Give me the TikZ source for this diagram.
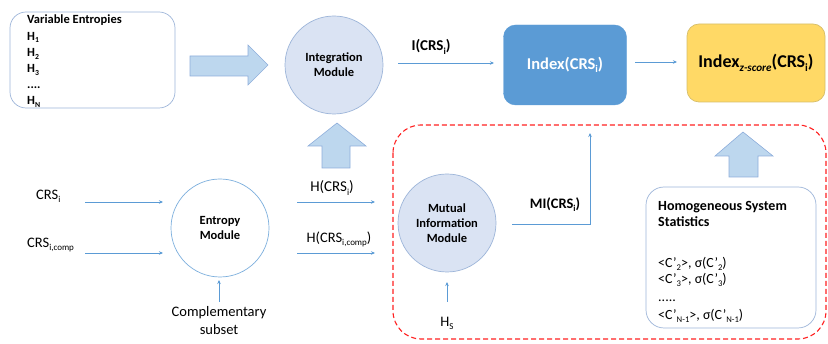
\documentclass[tikz,border=0pt]{standalone}
\usepackage{fontspec}
\setmainfont{Carlito}
\usetikzlibrary{arrows.meta}
\newcommand{\sub}[1]{\raisebox{-0.45ex}{\scalebox{0.62}{#1}}}
\definecolor{lineblue}{HTML}{5B9BD5}
\definecolor{edgeblue}{HTML}{9DB5D9}
\definecolor{circfill}{HTML}{DAE3F3}
\definecolor{arrowfill}{HTML}{BDD7EE}
\definecolor{arrowedge}{HTML}{8EAEDB}
\definecolor{idxblue}{HTML}{5B9BD5}
\definecolor{idxyellow}{HTML}{FFD966}
\definecolor{yedge}{HTML}{D6BE6A}
\definecolor{dashred}{HTML}{FF2020}
\tikzset{
  flow/.style={draw=lineblue, line width=0.8pt, -{Stealth[length=4pt,width=3.5pt]}},
  bigarrow/.style={draw=arrowedge, fill=arrowfill, line width=0.6pt},
  roundbox/.style={draw=edgeblue, line width=0.7pt, rounded corners=16pt, fill=white},
  module/.style={circle, draw=edgeblue, line width=0.7pt, fill=circfill, minimum size=98pt, inner sep=0pt, align=center, font=\fontsize{12.5}{15}\selectfont\bfseries},
  lbl/.style={inner sep=0pt, font=\fontsize{14.5}{16}\selectfont},
  blbl/.style={inner sep=0pt, font=\fontsize{14.5}{16}\selectfont\bfseries},
}
\begin{document}
\begin{tikzpicture}[x=1pt,y=-1pt]
\useasboundingbox (0,0) rectangle (828,344);
% Variable entropies box
\draw[roundbox] (10,12) rectangle (175,108);
\node[anchor=north west, inner sep=0pt, align=left, font=\fontsize{12.5}{16.2}\selectfont\bfseries] (varent) at (27,15)
  {Variable Entropies\\H\sub{1}\\H\sub{2}\\H\sub{3}\\....\\H\sub{N}};
% big right arrow
\draw[bigarrow] (190,56) -- (248,56) -- (248,45) -- (268,65) -- (248,85) -- (248,76) -- (190,76) -- cycle;
% Integration module
\node[module] (integ) at (334,65) {Integration\\Module};
% Index box
\node[draw=idxblue, fill=idxblue, rounded corners=12pt, minimum width=123pt, minimum height=80pt, text=white, font=\fontsize{16.5}{18}\selectfont\bfseries] (index) at (565,65) {Index(CRS\sub{i})};
% Index z-score box
\node[draw=yedge, fill=idxyellow, line width=0.7pt, rounded corners=12pt, minimum width=138pt, minimum height=78pt, font=\fontsize{18}{20}\selectfont\bfseries] (zindex) at (756,63) {Index\sub{\itshape z-score}(CRS\sub{i})};
\coordinate (ia) at (398,63);
\coordinate (ib) at (494,63);
\draw[flow] (ia) -- (ib);
\node[blbl, font=\fontsize{15}{16}\selectfont\bfseries] (ilbl) at (431,47) {I(CRS\sub{i})};
\coordinate (xa) at (635,62);
\coordinate (xb) at (677,62);
\draw[flow] (xa) -- (xb);
% up arrow under integration
\draw[bigarrow] (322,168) -- (322,146) -- (308,146) -- (337,123) -- (366,146) -- (350,146) -- (350,168) -- cycle;
% Entropy module
\node[module, fill=white, draw=lineblue!80] (entropy) at (220,228) {Entropy\\Module};
\node[lbl, anchor=west] (crs) at (36,196) {CRS\sub{i}};
\node[lbl, anchor=west] (crscomp) at (27,245) {CRS\sub{i,comp}};
\coordinate (c1a) at (85,202); \coordinate (c1b) at (163,202);
\coordinate (c2a) at (85,253); \coordinate (c2b) at (163,253);
\draw[flow] (c1a) -- (c1b);
\draw[flow] (c2a) -- (c2b);
\node[lbl, align=center, font=\fontsize{14.5}{18}\selectfont] (comp) at (219,321) {Complementary\\subset};
\draw[flow] (comp.north |- 0,302) -- (comp.north |- 0,280);
\node[lbl, font=\fontsize{15}{16}\selectfont] (hcrs) at (332,188) {H(CRS\sub{i})};
\node[lbl] (hcomp) at (339,239) {H(CRS\sub{i,comp})};
\coordinate (h1a) at (297,202); \coordinate (h1b) at (375,202);
\coordinate (h2a) at (297,253); \coordinate (h2b) at (375,253);
\draw[flow] (h1a) -- (h1b);
\draw[flow] (h2a) -- (h2b);
% red dashed region
\draw[dashred, dashed, line width=1.1pt, dash pattern=on 5pt off 3pt, rounded corners=28pt] (393,125) rectangle (826,339);
% Mutual information module
\node[module] (mutual) at (447,223) {Mutual\\Information\\Module};
\node[lbl] (hs) at (447,323) {H\sub{S}};
\draw[flow] (hs.north |- 0,302) -- (mutual.south |- 0,282);
\coordinate (mia) at (512,224);
\coordinate (mic) at (590,224);
\coordinate (mib) at (590,133);
\draw[flow] (mia) -- (mic) -- (mib);
\node[blbl] (milbl) at (555,205) {MI(CRS\sub{i})};
% up arrow right
\draw[bigarrow] (729,177) -- (729,156) -- (715,156) -- (743,132) -- (773,156) -- (758,156) -- (758,177) -- cycle;
% Homogeneous box
\draw[roundbox, rounded corners=18pt] (646,187) rectangle (816,328);
\node[anchor=north west, inner sep=0pt, align=left, font=\fontsize{14}{16.5}\selectfont] (homog) at (658,201)
  {\textbf{Homogeneous System}\\\textbf{Statistics}\\[24pt]
   <C’\sub{2}>, σ(C’\sub{2})\\[0pt]
   <C’\sub{3}>, σ(C’\sub{3})\\[1pt]
   .....\\[2pt]
   <C’\sub{N-1}>, σ(C’\sub{N-1})};
\end{tikzpicture}
\end{document}
